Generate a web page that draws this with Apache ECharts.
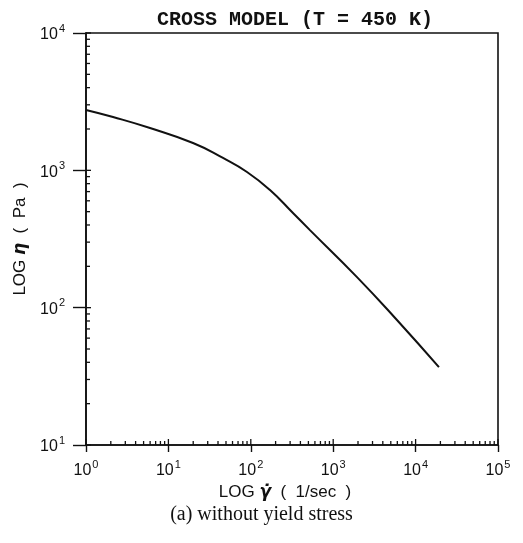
<!DOCTYPE html>
<html><head><meta charset="utf-8">
<script src="https://cdn.jsdelivr.net/npm/echarts@6/dist/echarts.min.js"></script>
<style>html,body{margin:0;padding:0;background:#fff}#c{width:523px;height:543px}</style>
</head><body><div id="c"></div>
<script>
var shearRate = [1, 2.13, 5.98, 19.9, 46, 89.9, 171, 325, 522, 1945, 5940, 19200];
var viscosity = [2750, 2443, 2032, 1581, 1230, 973, 719, 489, 367, 167, 81.3, 36.9];
var xTickExps = [0, 1, 2, 3, 4, 5];
var yTickExps = [1, 2, 3, 4];
var titleText = 'CROSS MODEL (T = 450 K)';
var xAxisTitle = 'LOG {g|\u03B3\u0307}  (  1/sec  )';
var yAxisTitle = 'LOG {g|\u03B7}  (  Pa  )';
var captionText = '(a) without yield stress';

function minorValues(exps) {
  var out = [];
  for (var i = 0; i < exps.length - 1; i++) {
    for (var m = 2; m <= 9; m++) out.push(m * Math.pow(10, exps[i]));
  }
  return out;
}
function majorValues(exps) { return exps.map(function (e) { return Math.pow(10, e); }); }

var xMinor = minorValues(xTickExps), yMinor = minorValues(yTickExps);
var xMajor = majorValues(xTickExps), yMajor = majorValues(yTickExps);
var yMin = yMajor[0], xMin = xMajor[0];

var tickData = [];
xMinor.forEach(function (v) { tickData.push([v, yMin, 0, 4]); });
xMajor.forEach(function (v) { tickData.push([v, yMin, 0, 6]); });
yMinor.forEach(function (v) { tickData.push([xMin, v, 1, 4]); });
yMajor.forEach(function (v) { tickData.push([xMin, v, 1, 5]); });

function supLabel(v) {
  var e = Math.round(Math.log10(v));
  return '{b|10}{s|' + e + '}';
}
var rich = {
  b: { fontFamily: 'Liberation Sans', fontSize: 16, color: '#111', verticalAlign: 'bottom' },
  s: { fontFamily: 'Liberation Sans', fontSize: 11, color: '#111', padding: [0, 0, 9, 1], verticalAlign: 'bottom' }
};
var nameRich = {
  g: { fontFamily: 'DejaVu Sans', fontSize: 17, fontStyle: 'italic', fontWeight: 'bold', color: '#111' }
};

var chart = echarts.init(document.getElementById('c'), null, { renderer: 'canvas' });
chart.setOption({
  animation: false,
  backgroundColor: '#fff',
  title: {
    text: titleText, left: 290, top: 5, textAlign: 'center',
    textStyle: { fontFamily: 'Liberation Mono', fontWeight: 'bold', fontSize: 20, color: '#111' }
  },
  graphic: [
    { type: 'text', left: 'center', top: 505, style: { text: captionText, font: '20px "Liberation Serif"', fill: '#111' } }
  ],
  grid: { left: 86, right: 25, top: 33, bottom: 98, show: true, borderColor: '#111', borderWidth: 1.6 },
  xAxis: {
    type: 'log', logBase: 10, min: 1, max: 100000,
    name: xAxisTitle, nameLocation: 'middle', nameGap: 38,
    nameTextStyle: { fontFamily: 'Liberation Sans', fontSize: 17, color: '#111', rich: nameRich, padding: [0, 0, 0, -14] },
    axisLine: { lineStyle: { color: '#111', width: 1.6 } },
    axisTick: { show: true, length: 7, lineStyle: { color: '#111', width: 1.4 } },
    axisLabel: { margin: 14, formatter: supLabel, rich: rich },
    splitLine: { show: false }
  },
  yAxis: {
    type: 'log', logBase: 10, min: 10, max: 10000,
    name: yAxisTitle, nameLocation: 'middle', nameGap: 56, nameRotate: 90,
    nameTextStyle: { fontFamily: 'Liberation Sans', fontSize: 17, color: '#111', rich: nameRich },
    axisLine: { lineStyle: { color: '#111', width: 1.6 } },
    axisTick: { show: true, length: 13, lineStyle: { color: '#111', width: 1.4 } },
    axisLabel: { margin: 21, formatter: supLabel, rich: rich },
    splitLine: { show: false }
  },
  series: [
    {
      type: 'custom', silent: true, data: tickData,
      renderItem: function (params, api) {
        var p = api.coord([api.value(0), api.value(1)]);
        var len = api.value(3);
        var style = { stroke: '#111', lineWidth: 1.3 };
        if (api.value(2) === 0) {
          return { type: 'line', shape: { x1: p[0], y1: p[1], x2: p[0], y2: p[1] - len }, style: style };
        }
        return { type: 'line', shape: { x1: p[0], y1: p[1], x2: p[0] + len, y2: p[1] }, style: style };
      }
    },
    {
      type: 'line', smooth: 0.5, symbol: 'none',
      data: shearRate.map(function (x, i) { return [x, viscosity[i]]; }),
      lineStyle: { color: '#111', width: 2 }
    }
  ]
});
</script></body></html>
